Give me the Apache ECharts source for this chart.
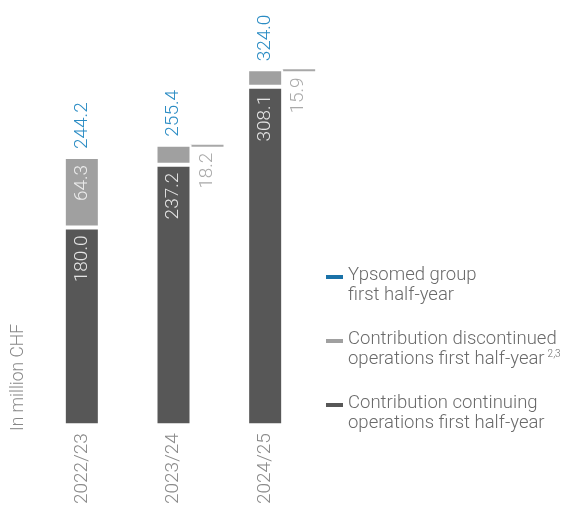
<!DOCTYPE html>
<html>
<head>
<meta charset="utf-8">
<script src="https://cdn.jsdelivr.net/npm/echarts@6/dist/echarts.min.js"></script>
<style>
html,body{margin:0;padding:0;background:#fff;}
#chart{width:563px;height:507px;}
</style>
</head>
<body>
<div id="chart"></div>
<script>
var categories = ['2022/23', '2023/24', '2024/25'];
var continuing = [180.0, 237.2, 308.1];
var discontinued = [64.3, 18.2, 15.9];
var groupTotal = [244.2, 255.4, 324.0];
var yAxisName = 'In million CHF';
var seriesNames = [
  'Ypsomed group first half-year',
  'Contribution discontinued operations first half-year',
  'Contribution continuing operations first half-year'
];
var legendLabels = {
  'Ypsomed group first half-year': 'Ypsomed group\nfirst half-year',
  'Contribution discontinued operations first half-year': 'Contribution discontinued\noperations first half-year{sup|2,3}',
  'Contribution continuing operations first half-year': 'Contribution continuing\noperations first half-year'
};

var FONT = 'Roboto, "Liberation Sans", sans-serif';
var BLUE_TEXT = '#2b8cc4';
var BLUE = '#1a72a8';
var LIGHT = '#a0a0a0';
var DARK = '#575757';
var BAR_W = 36;
var INSIDE_MIN = 30;
var NUM_SIZE = 19;

var discData = discontinued.map(function (v) {
  return { value: v, label: { show: v >= INSIDE_MIN } };
});
var leaderData = [];
discontinued.forEach(function (v, i) {
  if (v < INSIDE_MIN) leaderData.push([i, groupTotal[i], v]);
});

var chart = echarts.init(document.getElementById('chart'));
chart.setOption({
  animation: false,
  backgroundColor: '#fff',
  grid: { left: 36, width: 275, top: 40.8, bottom: 77 },
  xAxis: {
    type: 'category',
    data: categories,
    axisLine: { show: false },
    axisTick: { show: false },
    axisLabel: {
      rotate: 90, margin: 8, color: '#8a8a8a',
      fontFamily: FONT, fontWeight: 300, fontSize: NUM_SIZE
    }
  },
  yAxis: {
    type: 'value', min: 0, max: 350,
    axisLine: { show: false }, axisTick: { show: false },
    axisLabel: { show: false }, splitLine: { show: false }
  },
  legend: {
    orient: 'vertical',
    left: 326, top: 249,
    padding: 0,
    itemGap: 8,
    itemWidth: 17, itemHeight: 4,
    icon: 'rect',
    selectedMode: false,
    data: [
      { name: seriesNames[0], itemStyle: { color: BLUE, borderWidth: 0 } },
      { name: seriesNames[1], itemStyle: { color: LIGHT, borderWidth: 0 } },
      { name: seriesNames[2], itemStyle: { color: DARK, borderWidth: 0 } }
    ],
    formatter: function (n) { return legendLabels[n]; },
    textStyle: {
      color: '#6a6a6a', fontFamily: FONT, fontWeight: 300,
      fontSize: 18.5, lineHeight: 20, padding: [16, 0, 0, 0],
      rich: {
        sup: { fontSize: 10, fontFamily: FONT, fontWeight: 300, color: '#6a6a6a', verticalAlign: 'top', lineHeight: 20, padding: [0, 0, 0, 3] }
      }
    }
  },
  graphic: [{
    type: 'text',
    x: 18.5, y: 431,
    rotation: Math.PI / 2,
    style: {
      text: yAxisName, fill: '#888',
      font: '300 17.5px ' + FONT,
      align: 'left', verticalAlign: 'middle'
    }
  }],
  series: [
    {
      name: seriesNames[0],
      type: 'bar',
      data: groupTotal,
      barWidth: BAR_W,
      barGap: '-100%',
      silent: true,
      itemStyle: { color: 'rgba(0,0,0,0)' },
      label: {
        show: true, position: 'top', distance: 8, rotate: 90,
        align: 'left', verticalAlign: 'middle',
        color: BLUE_TEXT, fontFamily: FONT, fontWeight: 300, fontSize: NUM_SIZE,
        formatter: function (p) { return p.value.toFixed(1); }
      }
    },
    {
      name: seriesNames[2],
      type: 'bar',
      stack: 'h1',
      data: continuing,
      barWidth: BAR_W,
      silent: true,
      itemStyle: { color: DARK, borderColor: '#fff', borderWidth: 2 },
      label: {
        show: true, position: 'insideTop', distance: 8, rotate: 90,
        align: 'right', verticalAlign: 'middle',
        color: '#e4e4e4', fontFamily: FONT, fontWeight: 300, fontSize: NUM_SIZE,
        formatter: function (p) { return p.value.toFixed(1); }
      }
    },
    {
      name: seriesNames[1],
      type: 'bar',
      stack: 'h1',
      data: discData,
      barWidth: BAR_W,
      silent: true,
      itemStyle: { color: LIGHT, borderColor: '#fff', borderWidth: 2 },
      label: {
        position: 'insideTop', distance: 8, rotate: 90,
        align: 'right', verticalAlign: 'middle',
        color: '#ececec', fontFamily: FONT, fontWeight: 300, fontSize: NUM_SIZE,
        formatter: function (p) { return p.value.toFixed(1); }
      }
    },
    {
      type: 'custom',
      silent: true,
      data: leaderData,
      encode: { x: 0, y: 1 },
      renderItem: function (params, api) {
        var idx = api.value(0);
        var top = api.value(1);
        var val = api.value(2);
        var p = api.coord([idx, top]);
        var half = (BAR_W - 2) / 2;
        return {
          type: 'group',
          children: [
            { type: 'rect', shape: { x: p[0] + half, y: p[1], width: 33, height: 2 }, style: { fill: '#a8a8a8' } },
            {
              type: 'text', x: p[0] + 33.5, y: p[1] + 8, rotation: Math.PI / 2,
              style: { text: val.toFixed(1), fill: '#aaaaaa', font: '300 ' + NUM_SIZE + 'px ' + FONT, align: 'right', verticalAlign: 'middle' }
            }
          ]
        };
      }
    }
  ]
});
</script>
</body>
</html>
